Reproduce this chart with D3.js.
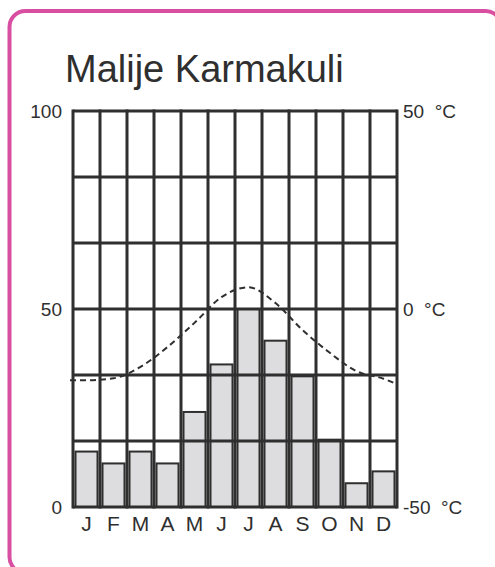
<!DOCTYPE html>
<html>
<head>
<meta charset="utf-8">
<script src="https://cdn.jsdelivr.net/npm/d3@7"></script>
<style>
  html, body { margin: 0; padding: 0; background: #fff; }
  svg { display: block; }
  text { font-family: "Liberation Sans", Arial, sans-serif; fill: #2f2f2f; }
</style>
</head>
<body>
<script>
const months = ["J", "F", "M", "A", "M", "J", "J", "A", "S", "O", "N", "D"];
// precipitation, mm
const precip = [14, 11, 14, 11, 24, 36, 50, 42, 33, 17, 6, 9];
// mean temperature, deg C
const temps = [-18, -17.5, -14.6, -9.6, -3.5, 3, 5.5, 1.5, -5.3, -11, -15.7, -17.6];
// where the dashed line meets the left and right frame
const tempEnds = [-18, -19];
const mmTicks = [0, 50, 100];
const tempTicks = [-50, 0, 50];

const width = 495;
const height = 567;
const plotL = 73, plotR = 397, plotT = 111, plotB = 507;
const dark = "#2f2f2f";

const svg = d3
  .select("body")
  .append("svg")
  .attr("width", width)
  .attr("height", height);

// pink frame
svg
  .append("rect")
  .attr("x", 9.5)
  .attr("y", 11)
  .attr("width", 492)
  .attr("height", 562)
  .attr("rx", 16)
  .attr("fill", "none")
  .attr("stroke", "#d84fa1")
  .attr("stroke-width", 4);

svg
  .append("text")
  .attr("x", 65)
  .attr("y", 82)
  .attr("font-size", 38)
  .attr("fill", "#333")
  .text("Malije Karmakuli");

const x = d3.scaleBand().domain(d3.range(12)).range([plotL, plotR]).padding(0);
const ymm = d3.scaleLinear().domain([0, 100]).range([plotB, plotT]);
const yt = d3.scaleLinear().domain([-50, 50]).range([plotB, plotT]);

// bars
svg
  .selectAll("rect.bar")
  .data(precip)
  .enter()
  .append("rect")
  .attr("class", "bar")
  .attr("x", (d, i) => x(i) + 2.5)
  .attr("width", x.bandwidth() - 5)
  .attr("y", d => ymm(d))
  .attr("height", d => ymm(0) - ymm(d))
  .attr("fill", "#dddddf")
  .attr("stroke", dark)
  .attr("stroke-width", 2);

// grid: 6 rows, 12 columns
const rows = d3.range(7).map(i => (i * 100) / 6);
svg
  .selectAll("line.h")
  .data(rows)
  .enter()
  .append("line")
  .attr("class", "h")
  .attr("x1", plotL)
  .attr("x2", plotR)
  .attr("y1", d => ymm(d))
  .attr("y2", d => ymm(d))
  .attr("stroke", dark)
  .attr("stroke-width", 3);

svg
  .selectAll("line.v")
  .data(d3.range(13))
  .enter()
  .append("line")
  .attr("class", "v")
  .attr("x1", i => (i < 12 ? x(i) : plotR))
  .attr("x2", i => (i < 12 ? x(i) : plotR))
  .attr("y1", plotT - 1.5)
  .attr("y2", plotB + 1.5)
  .attr("stroke", dark)
  .attr("stroke-width", 3);

// temperature line
const pts = [[plotL - 3, tempEnds[0]]]
  .concat(temps.map((t, i) => [x(i) + x.bandwidth() / 2, t]))
  .concat([[plotR, tempEnds[1]]]);
svg
  .append("path")
  .attr("d", d3.line().x(d => d[0]).y(d => yt(d[1])).curve(d3.curveMonotoneX)(pts))
  .attr("fill", "none")
  .attr("stroke", dark)
  .attr("stroke-width", 2)
  .attr("stroke-dasharray", "6,4");

// left axis (mm)
const yAxisL = d3.axisLeft(ymm).tickValues(mmTicks).tickSize(0).tickPadding(11);
svg
  .append("g")
  .attr("transform", `translate(${plotL},0)`)
  .call(yAxisL)
  .call(g => g.select(".domain").remove())
  .call(g => g.selectAll("text").attr("font-size", 19).attr("fill", "#262626")
    .style("font-family", "'Liberation Sans', Arial, sans-serif"));

// right axis (deg C)
const yAxisR = d3.axisRight(yt).tickValues(tempTicks).tickSize(0).tickPadding(6)
  .tickFormat(d => `${d}  °C`);
svg
  .append("g")
  .attr("transform", `translate(${plotR},0)`)
  .call(yAxisR)
  .call(g => g.select(".domain").remove())
  .call(g => g.selectAll("text").attr("font-size", 19).attr("fill", "#262626")
    .style("white-space", "pre")
    .style("font-family", "'Liberation Sans', Arial, sans-serif"));

// month labels
svg
  .selectAll("text.month")
  .data(months)
  .enter()
  .append("text")
  .attr("class", "month")
  .attr("x", (d, i) => x(i) + x.bandwidth() / 2)
  .attr("y", 531)
  .attr("text-anchor", "middle")
  .attr("font-size", 21)
  .attr("fill", "#262626")
  .text(d => d);
</script>
</body>
</html>
